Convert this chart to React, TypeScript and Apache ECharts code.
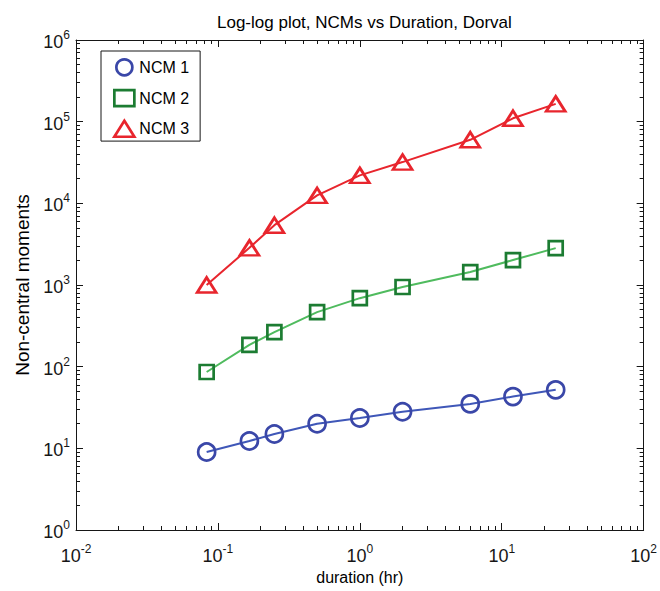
import React, { useEffect, useRef } from 'react';
import * as echarts from 'echarts';

// Data
const durations = [0.0833, 0.1667, 0.25, 0.5, 1, 2, 6, 12, 24];
const ncm1 = [9, 12.3, 15, 20, 23.5, 28, 35, 43, 52];
const ncm2 = [86, 185, 265, 465, 690, 945, 1440, 2020, 2830];
const ncm3 = [1000, 2850, 5400, 12500, 22000, 32000, 60000, 110000, 165000];
const seriesNames = ['NCM 1', 'NCM 2', 'NCM 3'];
const xRange = [0.01, 100];
const yRange = [1, 1000000];
const titleText = 'Log-log plot, NCMs vs Duration, Dorval';
const xName = 'duration (hr)';
const yName = 'Non-central moments';

const FONT = '"Liberation Sans", Arial, sans-serif';
const INK = '#161616';
const BLUE_MARK = '#3a47a8';
const BLUE_LINE = '#3f57b8';
const GREEN_MARK = '#1c7c32';
const GREEN_LINE = '#4fbb5e';
const RED = '#e8252d';

const supFormatter = (v: number) => `{b|10}{s|${Math.round(Math.log10(v))}}`;
const rich = {
  b: { fontSize: 18, fontFamily: FONT, color: INK, lineHeight: 22, verticalAlign: 'bottom' },
  s: { fontSize: 12, fontFamily: FONT, color: INK, lineHeight: 12, verticalAlign: 'top' },
};

function axisBase(range: number[], showLabel: boolean, splitNumber: number) {
  return {
    type: 'log',
    logBase: 10,
    min: range[0],
    max: range[1],
    splitNumber,
    axisLine: { show: true, onZero: false, lineStyle: { color: INK, width: 1 } },
    axisTick: { show: true, inside: true, length: 7, lineStyle: { color: INK, width: 1 } },
    minorTick: { show: true, splitNumber: 9, length: 4, lineStyle: { color: INK, width: 1 } },
    splitLine: { show: false },
    minorSplitLine: { show: false },
    axisLabel: showLabel
      ? { show: true, formatter: supFormatter, rich, margin: 6 }
      : { show: false },
  };
}

function pairs(ys: number[]) {
  return durations.map((d, i) => [d, ys[i]]);
}

export default function App() {
  const ref = useRef<HTMLDivElement>(null);
  useEffect(() => {
    if (!ref.current) return;
    const chart = echarts.init(ref.current, null, { renderer: 'svg' });
    const hollow = (c: string) => ({ color: 'rgba(0,0,0,0)', borderColor: c, borderWidth: 2.7 });
    chart.setOption({
      animation: false,
      backgroundColor: '#ffffff',
      title: {
        text: titleText,
        left: 212,
        top: 9,
        textStyle: { fontSize: 17, fontWeight: 'normal', fontFamily: FONT, color: '#000' },
      },
      grid: { left: 76, right: 13, top: 40, bottom: 61, containLabel: false },
      legend: {
        orient: 'vertical',
        left: 101,
        top: 51,
        backgroundColor: '#ffffff',
        borderColor: INK,
        borderWidth: 1,
        borderRadius: 0,
        padding: [7, 11, 3, 12],
        itemWidth: 20,
        itemHeight: 16,
        itemGap: 12,
        textStyle: { fontSize: 16, fontFamily: FONT, color: '#000' },
        data: [
          { name: seriesNames[0], icon: 'circle', itemStyle: hollow(BLUE_MARK) },
          { name: seriesNames[1], icon: 'rect', itemStyle: hollow(GREEN_MARK) },
          { name: seriesNames[2], icon: 'triangle', itemStyle: hollow(RED) },
        ],
      },
      xAxis: [
        {
          ...axisBase(xRange, true, 4),
          position: 'bottom',
          name: xName,
          nameLocation: 'middle',
          nameGap: 38,
          nameTextStyle: { fontSize: 16, fontFamily: FONT, color: '#000' },
          axisLabel: { show: true, formatter: supFormatter, rich, margin: 13 },
        },
        { ...axisBase(xRange, false, 4), position: 'top' },
      ],
      yAxis: [
        {
          ...axisBase(yRange, true, 6),
          position: 'left',
          name: yName,
          nameLocation: 'middle',
          nameGap: 44,
          nameTextStyle: { fontSize: 19, fontFamily: FONT, color: '#000' },
        },
        { ...axisBase(yRange, false, 6), position: 'right' },
      ],
      series: [
        {
          name: seriesNames[0],
          type: 'line',
          data: pairs(ncm1),
          symbol: 'circle',
          symbolSize: 17,
          itemStyle: hollow(BLUE_MARK),
          lineStyle: { color: BLUE_LINE, width: 2 },
        },
        {
          name: seriesNames[1],
          type: 'line',
          data: pairs(ncm2),
          symbol: 'rect',
          symbolSize: 14,
          itemStyle: hollow(GREEN_MARK),
          lineStyle: { color: GREEN_LINE, width: 2 },
        },
        {
          name: seriesNames[2],
          type: 'line',
          data: pairs(ncm3),
          symbol: 'triangle',
          symbolSize: [19, 15],
          itemStyle: hollow(RED),
          lineStyle: { color: RED, width: 2 },
        },
      ],
    });
    return () => chart.dispose();
  }, []);
  return (
    <div
      ref={ref}
      style={{ position: 'absolute', left: 0, top: 0, width: 660, height: 591 }}
    />
  );
}
